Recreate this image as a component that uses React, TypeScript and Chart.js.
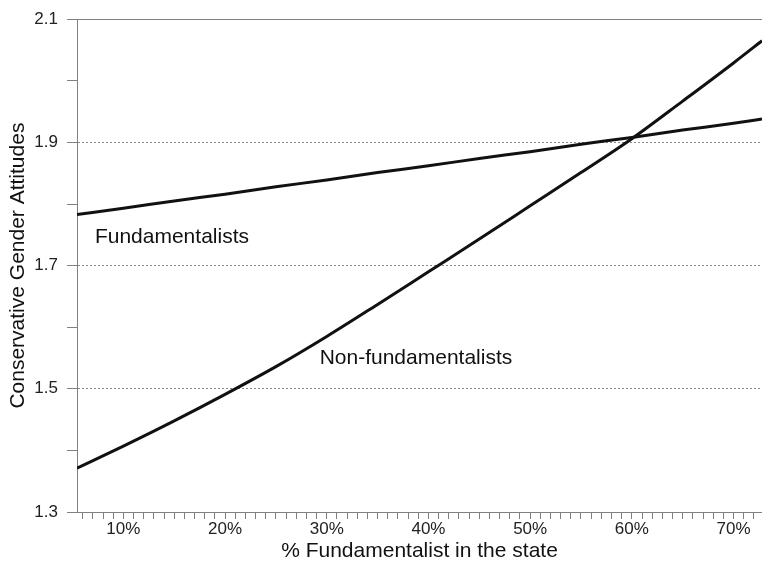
import React, { useEffect, useRef } from "react";
import { Chart, registerables } from "chart.js";

Chart.register(...registerables);

// ---- data ----
const xPercent = [5.44, 10, 15, 20, 25, 30, 35, 40, 45, 50, 55, 60, 65, 70, 72.8];
const nonFundamentalists = [1.371, 1.407, 1.448, 1.491, 1.536, 1.585, 1.637, 1.69, 1.743, 1.797, 1.851, 1.906, 1.967, 2.029, 2.065];
const fundamentalists = [1.783, 1.793, 1.805, 1.816, 1.828, 1.839, 1.851, 1.862, 1.874, 1.885, 1.897, 1.908, 1.92, 1.931, 1.938];

const xMin = 5.44;
const xMax = 72.8;
const xMajorLabels = [10, 20, 30, 40, 50, 60, 70];
const yMin = 1.3;
const yMax = 2.1;
const yLabelled = [1.3, 1.5, 1.7, 1.9, 2.1];
const yDotted = [1.5, 1.7, 1.9];

const xTitle = "% Fundamentalist in the state";
const yTitle = "Conservative Gender Attitudes";

// series annotations: [text, x (data), y (data, baseline)]
const seriesLabels: [string, number, number][] = [
  ["Fundamentalists", 7.2, 1.736],
  ["Non-fundamentalists", 29.3, 1.54],
];

const FONT = "'Liberation Sans', Arial, sans-serif";
const near = (a: number, b: number) => Math.abs(a - b) < 1e-6;

const labelPlugin = {
  id: "seriesLabels",
  afterDatasetsDraw(chart: any) {
    const { ctx, scales } = chart;
    ctx.save();
    ctx.font = `21px ${FONT}`;
    ctx.fillStyle = "#111";
    ctx.textAlign = "left";
    ctx.textBaseline = "alphabetic";
    for (const [t, x, y] of seriesLabels) {
      ctx.fillText(t, scales.x.getPixelForValue(x), scales.y.getPixelForValue(y));
    }
    ctx.restore();
  },
};

export default function App() {
  const ref = useRef<HTMLCanvasElement>(null);
  useEffect(() => {
    if (!ref.current) return;
    const toPts = (ys: number[]) => xPercent.map((x, i) => ({ x, y: ys[i] }));
    const chart = new Chart(ref.current, {
      type: "scatter",
      data: {
        datasets: [
          {
            label: "Fundamentalists",
            data: toPts(fundamentalists),
            showLine: true,
            borderColor: "#111",
            borderWidth: 3,
            pointRadius: 0,
            cubicInterpolationMode: "monotone",
          },
          {
            label: "Non-fundamentalists",
            data: toPts(nonFundamentalists),
            showLine: true,
            borderColor: "#111",
            borderWidth: 3,
            pointRadius: 0,
            cubicInterpolationMode: "monotone",
          },
        ],
      },
      options: {
        responsive: false,
        animation: false,
        devicePixelRatio: 1,
        layout: { padding: { top: 13, left: 0, right: 0, bottom: 0 } },
        plugins: { legend: { display: false }, tooltip: { enabled: false } },
        scales: {
          x: {
            type: "linear",
            min: xMin,
            max: xMax,
            afterBuildTicks: (scale: any) => {
              const t: any[] = [];
              for (let v = Math.ceil(xMin); v <= Math.floor(xMax); v++) t.push({ value: v });
              scale.ticks = t;
            },
            afterFit: (scale: any) => {
              scale.height = 52;
            },
            ticks: {
              autoSkip: false,
              maxRotation: 0,
              padding: 0,
              color: "#222",
              font: { family: FONT, size: 17 },
              callback: (v: any) => (xMajorLabels.includes(Math.round(v)) && near(v, Math.round(v)) ? `${Math.round(v)}%` : ""),
            },
            grid: {
              drawOnChartArea: false,
              drawTicks: true,
              tickLength: 7,
              tickColor: "#808080",
              color: "#808080",
            },
            border: { display: true, color: "#808080", width: 1 },
            title: {
              display: true,
              text: xTitle,
              color: "#111",
              font: { family: FONT, size: 21 },
              padding: { top: 0, bottom: 0 },
            },
          },
          y: {
            type: "linear",
            min: yMin,
            max: yMax,
            afterBuildTicks: (scale: any) => {
              const t: any[] = [];
              for (let i = 0; i <= 8; i++) t.push({ value: Math.round((yMin + i * 0.1) * 10) / 10 });
              scale.ticks = t;
            },
            afterFit: (scale: any) => {
              scale.width = 77;
            },
            ticks: {
              autoSkip: false,
              padding: 9,
              color: "#222",
              font: { family: FONT, size: 17 },
              callback: (v: any) => (yLabelled.some((l) => near(l, v)) ? Number(v).toFixed(1) : ""),
            },
            grid: {
              drawOnChartArea: true,
              drawTicks: true,
              tickLength: 10,
              tickColor: "#808080",
              color: (c: any) => {
                const v = c.tick ? c.tick.value : null;
                if (v == null) return "rgba(0,0,0,0)";
                if (near(v, yMax)) return "#808080";
                if (yDotted.some((d) => near(d, v))) return "#8a8a8a";
                return "rgba(0,0,0,0)";
              },
            },
            border: {
              display: true,
              color: "#808080",
              width: 1,
              dash: (c: any) => {
                if (!c.tick) return [];
                if (yDotted.some((d) => near(d, c.tick.value))) return [2, 2];
                return [];
              },
            },
            title: {
              display: true,
              text: yTitle,
              color: "#111",
              font: { family: FONT, size: 21 },
              padding: { top: 6, bottom: 6 },
            },
          },
        },
      },
      plugins: [labelPlugin],
    } as any);
    return () => chart.destroy();
  }, []);
  return (
    <div style={{ position: "fixed", left: 0, top: 0, width: 762, height: 564, background: "#fff" }}>
      <canvas ref={ref} width={762} height={564} style={{ display: "block" }} />
    </div>
  );
}
